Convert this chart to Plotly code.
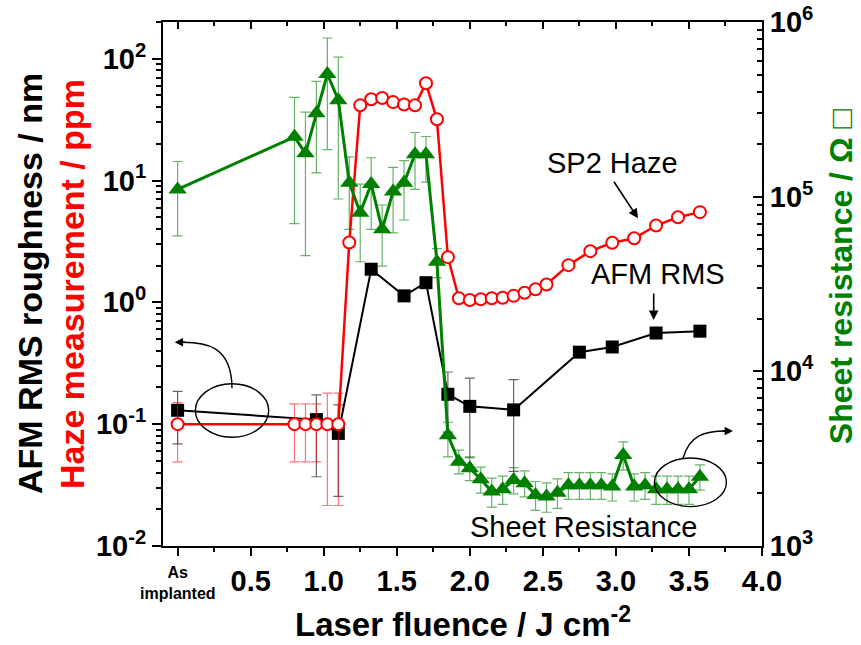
import plotly.graph_objects as go

# ---------------- data ----------------
# Haze measurement (ppm), left axis
haze_x = [0, 0.8, 0.875, 0.95, 1.025, 1.1, 1.175, 1.25, 1.325, 1.4, 1.475, 1.55, 1.625, 1.7,
          1.775, 1.85, 1.925, 2.0, 2.075, 2.15, 2.225, 2.3, 2.375, 2.45, 2.525, 2.675, 2.825,
          2.975, 3.125, 3.275, 3.425, 3.575]
haze_y = [0.1, 0.1, 0.1, 0.1, 0.1, 0.1, 3.1, 41.4, 46.4, 47.5, 44.0, 42.0, 41.4, 62.8,
          31.8, 2.35, 1.08, 1.045, 1.06, 1.08, 1.09, 1.13, 1.20, 1.28, 1.40, 2.02, 2.63,
          3.08, 3.36, 4.27, 5.0, 5.5]
haze_err_plus = [0.05, 0.047, 0.047, 0.047, 0.08, 0.08, 0, 1.5, 1.5, 1.5, 1.8, 2.0, 2.0, 1.2,
                 0.8, 0, 0, 0, 0, 0, 0, 0, 0, 0, 0, 0, 0, 0, 0, 0, 0, 0]
haze_err_minus = [0.051, 0.051, 0.051, 0.051, 0.0785, 0.0785, 0, 1.5, 1.5, 1.5, 1.8, 2.0, 2.0, 1.2,
                  0.8, 0, 0, 0, 0, 0, 0, 0, 0, 0, 0, 0, 0, 0, 0, 0, 0, 0]

# AFM RMS roughness (nm), left axis
afm_x = [0, 0.95, 1.1, 1.325, 1.55, 1.7, 1.85, 2.0, 2.3, 2.75, 2.975, 3.275, 3.575]
afm_y = [0.13, 0.109, 0.084, 1.87, 1.13, 1.45, 0.176, 0.14, 0.131, 0.39, 0.43, 0.56, 0.58]
afm_err_plus = [0.056, 0.065, 0.06, 0, 0, 0, 0.092, 0.099, 0.101, 0, 0, 0, 0]
afm_err_minus = [0.061, 0.072, 0.0585, 0, 0, 0, 0.09, 0.087, 0.09, 0, 0, 0, 0]

# Sheet resistance (Ohm/sq), right axis
sr_x = [0, 0.8, 0.875, 0.95, 1.025, 1.1, 1.175, 1.25, 1.325, 1.4, 1.475, 1.55, 1.625, 1.7,
        1.775, 1.85, 1.925, 2.0, 2.075, 2.15, 2.225, 2.3, 2.375, 2.45, 2.525, 2.6, 2.675,
        2.75, 2.825, 2.9, 2.975, 3.05, 3.125, 3.2, 3.275, 3.35, 3.425, 3.5, 3.575]
sr_y = [1.1e5, 2.2e5, 1.77e5, 3.0e5, 5.04e5, 3.57e5, 1.2e5, 8.1e4, 1.18e5, 6.5e4, 1.07e5,
        1.2e5, 1.75e5, 1.75e5, 4.24e4, 4.31e3, 3.04e3, 2.79e3, 2.41e3, 2.05e3, 2.11e3,
        2.39e3, 2.29e3, 1.96e3, 1.92e3, 2.02e3, 2.23e3, 2.23e3, 2.23e3, 2.23e3, 2.19e3,
        3.32e3, 2.19e3, 2.23e3, 2.11e3, 2.11e3, 2.11e3, 2.11e3, 2.49e3]
sr_err_plus = [4.9e4, 1.5e5, 1.28e5, 1.57e5, 3.06e5, 2.73e5, 4.9e4, 3.7e4, 4.9e4, 2.46e4,
               4.0e4, 4.1e4, 5.8e4, 4.6e4, 8.0e3, 800, 500, 450, 420, 400, 400, 420, 400,
               380, 380, 400, 400, 400, 400, 400, 400, 630, 400, 400, 400, 400, 400, 400, 420]
sr_err_minus = [5.04e4, 1.5e5, 1.31e5, 1.63e5, 3.18e5, 2.6e5, 5.5e4, 3.86e4, 5.3e4, 2.5e4,
                4.5e4, 4.65e4, 6.5e4, 5.4e4, 8.0e3, 1070, 450, 420, 400, 380, 380, 400, 380,
                360, 360, 380, 380, 380, 380, 380, 380, 600, 380, 380, 380, 380, 380, 380, 400]

x_tickvals = [0, 0.5, 1.0, 1.5, 2.0, 2.5, 3.0, 3.5, 4.0]
x_ticktext = ["", "0.5", "1.0", "1.5", "2.0", "2.5", "3.0", "3.5", "4.0"]
left_tickvals = [0.01, 0.1, 1, 10, 100]
left_ticktext = ["10<sup>-2</sup>", "10<sup>-1</sup>", "10<sup>0</sup>", "10<sup>1</sup>", "10<sup>2</sup>"]
right_tickvals = [1e3, 1e4, 1e5, 1e6]
right_ticktext = ["10<sup>3</sup>", "10<sup>4</sup>", "10<sup>5</sup>", "10<sup>6</sup>"]

# ---------------- styles ----------------
FONT = "Liberation Sans, Arial, sans-serif"
RED = "rgb(255,0,0)"
GREEN = "rgb(0,128,0)"
BLACK = "rgb(0,0,0)"

left_minor = [k * 10.0 ** e for e in range(-2, 3) for k in range(2, 10) if k * 10.0 ** e <= 200]
right_minor = [k * 10.0 ** e for e in range(3, 6) for k in range(2, 10)]
x_minor = [0.25 + 0.5 * i for i in range(8)]

fig = go.Figure()

fig.add_trace(go.Scatter(
    x=afm_x, y=afm_y, mode="lines+markers", name="AFM RMS",
    line=dict(color=BLACK, width=2),
    marker=dict(symbol="square", size=13, color=BLACK),
    error_y=dict(type="data", symmetric=False, array=afm_err_plus, arrayminus=afm_err_minus,
                 color="rgba(0,0,0,0.6)", thickness=1.2, width=5),
    xaxis="x", yaxis="y"))

fig.add_trace(go.Scatter(
    x=haze_x, y=haze_y, mode="lines+markers", name="SP2 Haze",
    line=dict(color=RED, width=2.5),
    marker=dict(symbol="circle", size=12, color="white", line=dict(color=RED, width=2)),
    error_y=dict(type="data", symmetric=False, array=haze_err_plus, arrayminus=haze_err_minus,
                 color="rgba(255,0,0,0.55)", thickness=1.2, width=5),
    xaxis="x", yaxis="y"))

fig.add_trace(go.Scatter(
    x=sr_x, y=sr_y, mode="lines+markers", name="Sheet Resistance",
    line=dict(color=GREEN, width=3),
    marker=dict(symbol="triangle-up", size=16, color=GREEN),
    error_y=dict(type="data", symmetric=False, array=sr_err_plus, arrayminus=sr_err_minus,
                 color="rgba(0,128,0,0.6)", thickness=1.2, width=5),
    xaxis="x", yaxis="y2"))

# dummy trace so the top axis is rendered
fig.add_trace(go.Scatter(x=[None], y=[None], xaxis="x2", yaxis="y", showlegend=False,
                         hoverinfo="skip"))

tickfont = dict(family=FONT, size=29, color="black", weight="bold")

fig.update_layout(
    width=861, height=645,
    margin=dict(l=163, r=99, t=22, b=99, autoexpand=False),
    paper_bgcolor="white", plot_bgcolor="white",
    showlegend=False,
    xaxis=dict(range=[-0.1, 4.0], tickmode="array", tickvals=x_tickvals, ticktext=x_ticktext,
               ticks="outside", ticklen=8, tickwidth=2, tickcolor="black", automargin=False,
               showline=True, linewidth=2, linecolor="black", showgrid=False, zeroline=False,
               tickfont=tickfont,
               minor=dict(tickmode="array", tickvals=x_minor, ticks="outside", ticklen=4,
                          tickwidth=2, tickcolor="black", showgrid=False)),
    xaxis2=dict(range=[-0.1, 4.0], overlaying="x", side="top", anchor="y", automargin=False,
                tickmode="array", tickvals=x_tickvals, showticklabels=False,
                ticks="inside", ticklen=7, tickwidth=2, tickcolor="black",
                showline=True, linewidth=2, linecolor="black", showgrid=False, zeroline=False,
                minor=dict(tickmode="array", tickvals=x_minor, ticks="inside", ticklen=4,
                           tickwidth=2, tickcolor="black", showgrid=False)),
    yaxis=dict(type="log", range=[-2, 2.301], tickmode="array", tickvals=left_tickvals,
               ticktext=left_ticktext, ticks="outside", ticklen=9, tickwidth=2, tickcolor="black",
               showline=True, linewidth=2, linecolor="black", showgrid=False, zeroline=False,
               automargin=False,
               tickfont=dict(family=FONT, size=29, color="black", weight="bold"),
               minor=dict(tickmode="array", tickvals=left_minor, ticks="outside", ticklen=5,
                          tickwidth=1.5, tickcolor="black", showgrid=False)),
    yaxis2=dict(type="log", range=[3, 6], overlaying="y", side="right", anchor="x",
                tickmode="array", tickvals=right_tickvals, ticktext=right_ticktext,
                ticks="inside", ticklen=9, tickwidth=2, tickcolor="black", automargin=False,
                showline=True, linewidth=2, linecolor="black", showgrid=False, zeroline=False,
                tickfont=dict(family=FONT, size=29, color="black", weight="bold"),
                minor=dict(tickmode="array", tickvals=right_minor, ticks="inside", ticklen=5,
                           tickwidth=1.5, tickcolor="black", showgrid=False)),
)

ann = []
# As implanted label
ann.append(dict(x=0, y=0, xref="x", yref="paper", yanchor="top", xanchor="center", yshift=-16,
                text="As<br>implanted", showarrow=False,
                font=dict(family=FONT, size=16, color="black", weight="bold")))
# axis titles
ann.append(dict(x=0.5, y=-0.145, xref="paper", yref="paper", xanchor="center", yanchor="middle",
                text="Laser fluence / J cm<sup>-2</sup>", showarrow=False,
                font=dict(family=FONT, size=33, color="black", weight="bold")))
ann.append(dict(x=0, y=0.5, xref="paper", yref="paper", xanchor="center", yanchor="middle",
                xshift=-133, text="AFM RMS roughness / nm", textangle=-90, showarrow=False,
                font=dict(family=FONT, size=34, color="black", weight="bold")))
ann.append(dict(x=0, y=0.5, xref="paper", yref="paper", xanchor="center", yanchor="middle",
                xshift=-91, text="Haze measurement / ppm", textangle=-90, showarrow=False,
                font=dict(family=FONT, size=34, color=RED, weight="bold")))
ann.append(dict(x=1, y=0.515, xref="paper", yref="paper", xanchor="center", yanchor="middle",
                xshift=79, text="Sheet resistance / Ω □", textangle=-90, showarrow=False,
                font=dict(family=FONT, size=32, color=GREEN, weight="bold")))
# in-plot labels
label_font = dict(family=FONT, size=29, color="black")
ann.append(dict(x=0.7508, y=0.7309, xref="paper", yref="paper", text="SP2 Haze",
                xanchor="center", yanchor="middle", showarrow=False, font=label_font))
ann.append(dict(x=0.826, y=0.519, xref="paper", yref="paper", text="AFM RMS",
                xanchor="center", yanchor="middle", showarrow=False, font=label_font))
ann.append(dict(x=0.702, y=0.0363, xref="paper", yref="paper", text="Sheet Resistance",
                xanchor="center", yanchor="middle", showarrow=False, font=label_font))
# straight arrows
ann.append(dict(x=0.793, y=0.6254, xref="paper", yref="paper", text="", showarrow=True,
                ax=-25, ay=-38, arrowhead=2, arrowsize=1.2, arrowwidth=1.6, arrowcolor="black"))
ann.append(dict(x=0.8192, y=0.4313, xref="paper", yref="paper", text="", showarrow=True,
                ax=0, ay=-28, arrowhead=2, arrowsize=1.2, arrowwidth=1.6, arrowcolor="black"))
# curved arrow heads
ann.append(dict(x=0.0195, y=0.3887, xref="paper", yref="paper", text="", showarrow=True,
                ax=12, ay=0, arrowhead=2, arrowsize=1.2, arrowwidth=1.4, arrowcolor="black"))
ann.append(dict(x=0.9516, y=0.2195, xref="paper", yref="paper", text="", showarrow=True,
                ax=-12, ay=0, arrowhead=2, arrowsize=1.2, arrowwidth=1.4, arrowcolor="black"))
fig.update_layout(annotations=ann)

shapes = [
    dict(type="circle", xref="paper", yref="paper", x0=0.054, x1=0.1765, y0=0.2076, y1=0.3096,
         line=dict(color="black", width=1.4)),
    dict(type="circle", xref="paper", yref="paper", x0=0.8204, x1=0.9406, y0=0.0752, y1=0.168,
         line=dict(color="black", width=1.4)),
    dict(type="path", xref="paper", yref="paper",
         path="M 0.1152,0.301 C 0.1147,0.3836 0.0696,0.3893 0.03,0.3887",
         line=dict(color="black", width=1.4)),
    dict(type="path", xref="paper", yref="paper",
         path="M 0.8681,0.1674 C 0.8793,0.2118 0.9043,0.2195 0.94,0.2195",
         line=dict(color="black", width=1.4)),
]
fig.update_layout(shapes=shapes)

fig.write_html("out.html")
